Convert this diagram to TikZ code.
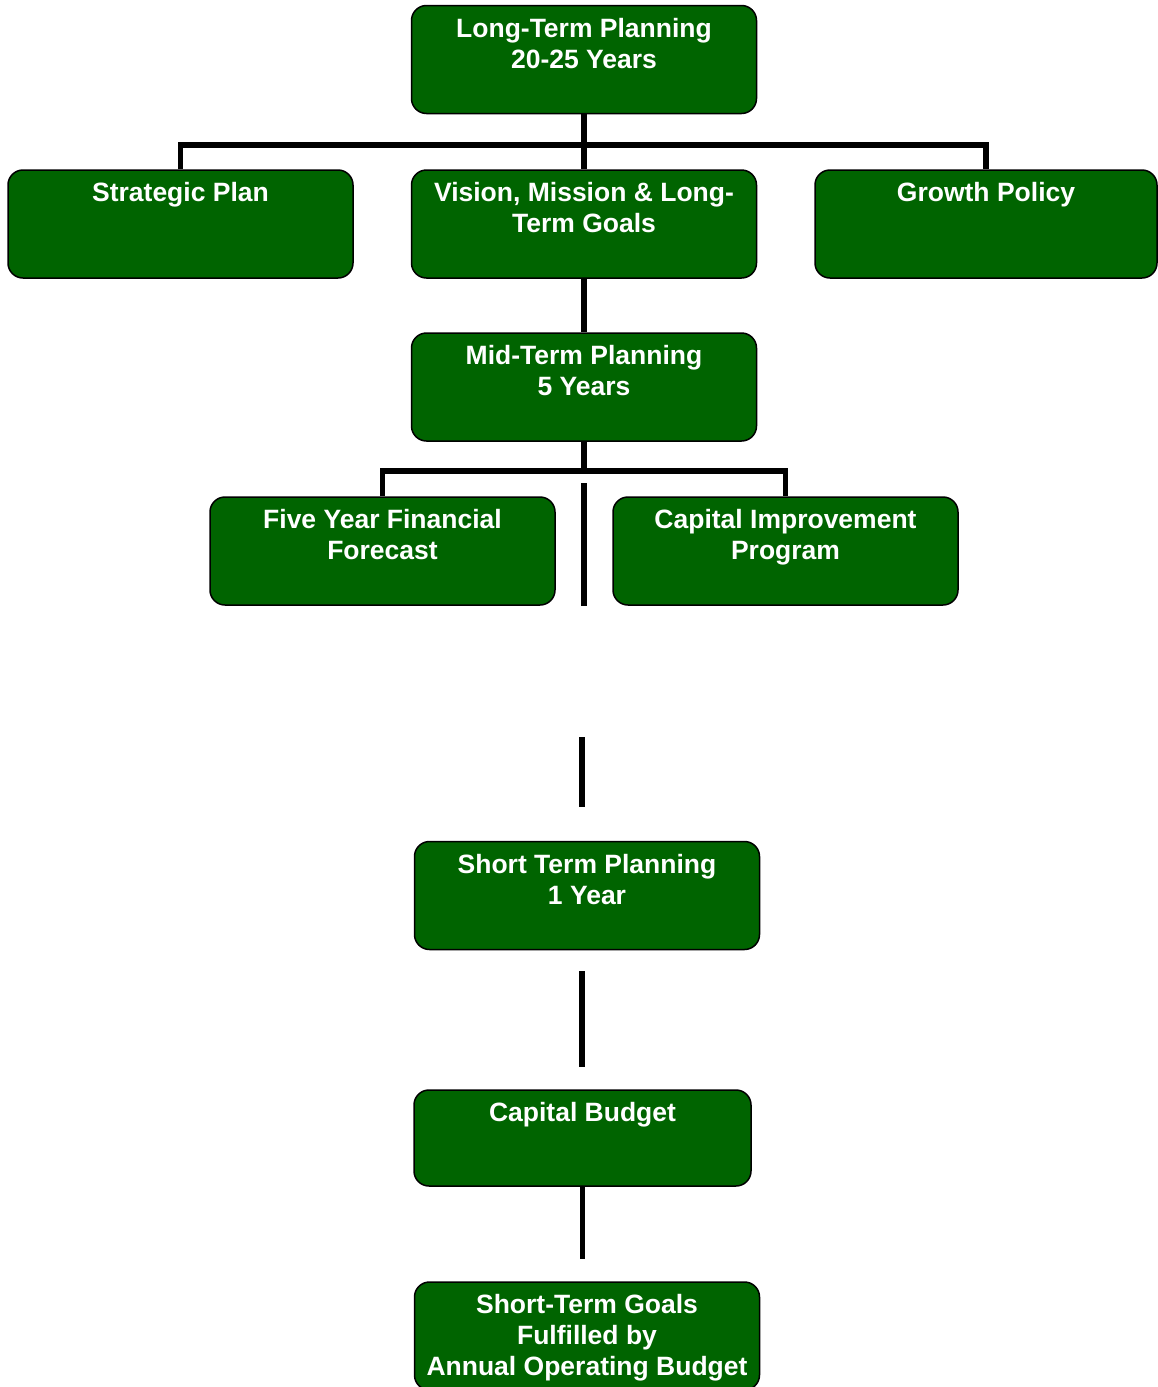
\documentclass[tikz,border=0pt]{standalone}
\usepackage{fontspec}
\setmainfont{Liberation Sans}
\definecolor{boxgreen}{RGB}{0,100,0}
\tikzset{
  box/.style={draw=black, line width=1.5pt, fill=boxgreen, rounded corners=15pt,
    minimum width=345pt, minimum height=108pt, inner sep=0pt},
  lbl/.style={text=white, font=\fontsize{26.5}{31}\selectfont\bfseries, align=center,
    inner sep=0pt, anchor=north},
  conn/.style={line width=5.5pt}
}
\begin{document}
\begin{tikzpicture}[x=1pt, y=-1pt]
	\useasboundingbox (0,0) rectangle (1158,1387);
	\clip (0,0) rectangle (1158,1387);
	% boxes
	\node[box] (ltp) at (584,59.5) {};
	\node[box] (strat) at (180.5,224) {};
	\node[box] (vision) at (584,224) {};
	\node[box, minimum width=342pt] (growth) at (986,224) {};
	\node[box] (mtp) at (584,387) {};
	\node[box] (fyff) at (382.5,551) {};
	\node[box] (cip) at (785.5,551) {};
	\node[box] (stp) at (587,895.5) {};
	\node[box, minimum width=337pt, minimum height=96pt] (capb) at (582.5,1138) {};
	\node[box] (stg) at (587,1336) {};
	% texts
	\foreach \n/\t in {ltp/{Long-Term Planning\\20-25 Years},
		strat/{Strategic Plan},
		vision/{Vision, Mission \& Long-\\Term Goals},
		growth/{Growth Policy},
		mtp/{Mid-Term Planning\\5 Years},
		fyff/{Five Year Financial\\Forecast},
		cip/{Capital Improvement\\Program},
		stp/{Short Term Planning\\1 Year},
		capb/{Capital Budget},
		stg/{Short-Term Goals\\Fulfilled by\\Annual Operating Budget}}
		\node[lbl] (\n T) at ([yshift=-13.3pt]\n.north) {\t};
	% connectors
	\coordinate (bar1) at (584,145);
	\draw[conn] (ltp.south) -- (vision.north);
	\draw[conn] (strat.north) |- (bar1) -| (growth.north);
	\draw[conn] (vision.south) -- (mtp.north);
	\coordinate (bar2) at (584,471);
	\draw[conn] (mtp.south) -- (bar2);
	\draw[conn] (fyff.north) |- (bar2) -| (cip.north);
	\coordinate (gap1) at (584,483);
	\draw[conn] (gap1) -- (gap1 |- fyff.south);
	\coordinate (gap2a) at (582,737);
	\coordinate (gap2b) at (582,807);
	\draw[conn] (gap2a) -- (gap2b);
	\coordinate (gap3a) at (582,971);
	\coordinate (gap3b) at (582,1067);
	\draw[conn] (gap3a) -- (gap3b);
	\draw[conn] (capb.south) -- ++(0,72);
\end{tikzpicture}
\end{document}
